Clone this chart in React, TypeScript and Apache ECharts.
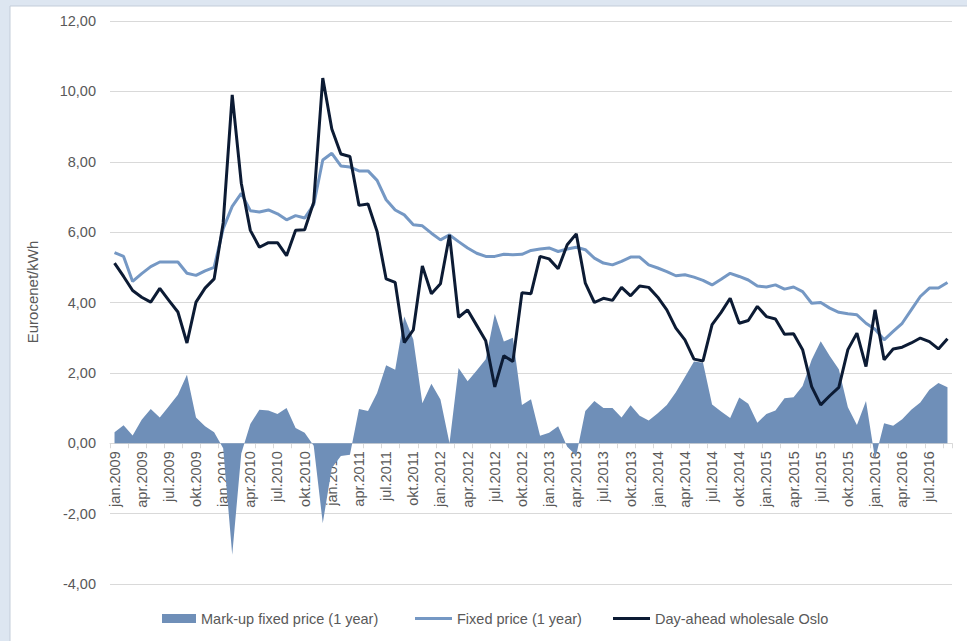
import React, { useEffect, useRef } from "react";
import * as echarts from "echarts";

// Month abbreviations (Norwegian) and the years covered by the series
const monthNames = ["jan", "feb", "mar", "apr", "mai", "jun", "jul", "aug", "sep", "okt", "nov", "des"];
const years = [2009, 2010, 2011, 2012, 2013, 2014, 2015, 2016];
const lastMonthOf2016 = 9; // series ends in September 2016

// Mark-up of the 1-year fixed price over the spot price (eurocent/kWh)
const markUp = [
  0.31, 0.51, 0.22, 0.67, 0.97, 0.73, 1.05, 1.38, 1.95, 0.73, 0.48, 0.31,
  -0.14, -3.17, -0.29, 0.55, 0.95, 0.93, 0.83, 1.0, 0.43, 0.3, -0.07, -2.27,
  -0.7, -0.36, -0.33, 0.97, 0.92, 1.43, 2.22, 2.09, 3.6, 2.95, 1.14, 1.69,
  1.24, 0.0, 2.14, 1.76, 2.07, 2.39, 3.67, 2.89, 3.0, 1.09, 1.25, 0.21,
  0.3, 0.48, -0.1, -0.35, 0.92, 1.2, 1.0, 1.0, 0.73, 1.08, 0.78, 0.65,
  0.85, 1.09, 1.45, 1.88, 2.32, 2.29, 1.1, 0.9, 0.72, 1.3, 1.12, 0.58,
  0.83, 0.93, 1.28, 1.31, 1.63, 2.37, 2.9, 2.48, 2.1, 1.02, 0.52, 1.2,
  -0.45, 0.57, 0.5, 0.68, 0.95, 1.16, 1.52, 1.71, 1.59,
];

// Fixed price contract, 1 year (eurocent/kWh)
const fixedPrice = [
  5.42, 5.31, 4.6, 4.82, 5.02, 5.15, 5.15, 5.15, 4.83, 4.77, 4.9, 5.0,
  6.1, 6.73, 7.1, 6.61, 6.57, 6.63, 6.52, 6.35, 6.47, 6.4, 6.78, 8.05,
  8.24, 7.88, 7.85, 7.74, 7.74, 7.47, 6.92, 6.63, 6.49, 6.21, 6.18, 5.97,
  5.78, 5.92, 5.73, 5.55, 5.4, 5.31, 5.31, 5.37, 5.36, 5.37, 5.48, 5.52,
  5.55, 5.45, 5.52, 5.57, 5.5, 5.26, 5.12, 5.07, 5.17, 5.29, 5.29, 5.07,
  4.98, 4.88, 4.76, 4.79, 4.72, 4.63, 4.5, 4.66, 4.83, 4.74, 4.64, 4.47,
  4.44, 4.5, 4.38, 4.44, 4.31, 3.98, 4.0, 3.84, 3.72, 3.68, 3.65, 3.41,
  3.24, 2.94, 3.18, 3.41, 3.79, 4.17, 4.41, 4.41, 4.57,
];

// Day-ahead wholesale price, Oslo area (eurocent/kWh)
const dayAhead = [
  5.12, 4.74, 4.34, 4.15, 4.01, 4.4, 4.06, 3.73, 2.85, 4.01, 4.41, 4.67,
  6.26, 9.9, 7.39, 6.05, 5.57, 5.7, 5.7, 5.33, 6.05, 6.07, 6.85, 10.38,
  8.93, 8.22, 8.15, 6.76, 6.8, 6.02, 4.67, 4.57, 2.86, 3.22, 5.04, 4.25,
  4.53, 5.92, 3.58, 3.79, 3.35, 2.91, 1.6, 2.49, 2.32, 4.28, 4.25, 5.31,
  5.24, 4.96, 5.64, 5.95, 4.55, 4.0, 4.12, 4.06, 4.43, 4.19, 4.47, 4.43,
  4.15, 3.79, 3.27, 2.94, 2.39, 2.34, 3.37, 3.72, 4.12, 3.41, 3.49, 3.89,
  3.6, 3.53, 3.1, 3.11, 2.66, 1.61, 1.09, 1.35, 1.59, 2.66, 3.13, 2.18,
  3.79, 2.37, 2.68, 2.73, 2.85, 2.99, 2.89, 2.68, 2.97,
];

const seriesNames = ["Mark-up fixed price (1 year)", "Fixed price (1 year)", "Day-ahead wholesale Oslo"];
const yTicks = { min: -4, max: 12, step: 2 };

const categories: string[] = [];
years.forEach((y) => {
  const count = y === 2016 ? lastMonthOf2016 : 12;
  for (let m = 0; m < count; m++) categories.push(`${monthNames[m]}.${y}`);
});

const FONT = "'Liberation Sans', Arial, sans-serif";
const TEXT = "#595959";
const GRID = "#d9d9d9";
const AREA = "#6f8fb8";
const FIXED = "#7598c4";
const SPOT = "#0c1b34";

// Plot area in page pixels
const PLOT = { left: 110, right: 15, top: 21, bottom: 57, height: 641 - 21 - 57 };
// The category axis sits on the zero line: shift it up from the bottom edge
const zeroOffset = (PLOT.height * (0 - yTicks.min)) / (yTicks.max - yTicks.min);

const legendBase = {
  top: 611,
  padding: 0,
  itemGap: 0,
  textStyle: { color: TEXT, fontSize: 14.5, fontFamily: FONT },
};

export default function App() {
  const ref = useRef<HTMLDivElement>(null);

  useEffect(() => {
    if (!ref.current) return;
    const chart = echarts.init(ref.current, null, { renderer: "svg" });
    chart.setOption({
      animation: false,
      backgroundColor: "#dde6f1",
      textStyle: { fontFamily: FONT },
      graphic: [
        {
          type: "rect",
          z: -10,
          silent: true,
          shape: { x: 10, y: 6, width: 960, height: 640 },
          style: { fill: "#ffffff", stroke: "#c3cdd9", lineWidth: 1 },
        },
        {
          type: "text",
          x: 32,
          y: 292,
          rotation: Math.PI / 2,
          silent: true,
          style: {
            text: "Eurocenet/kWh",
            fill: TEXT,
            font: `15px ${FONT}`,
            align: "center",
            verticalAlign: "middle",
          },
        },
      ],
      grid: {
        left: PLOT.left,
        right: PLOT.right,
        top: PLOT.top,
        bottom: PLOT.bottom,
        containLabel: false,
        outerBoundsMode: "none",
      },
      legend: [
        {
          ...legendBase,
          left: 162,
          itemWidth: 34,
          itemHeight: 9,
          data: [{ name: seriesNames[0], icon: "rect" }],
        },
        {
          ...legendBase,
          left: 415,
          itemWidth: 37,
          itemHeight: 3,
          data: [{ name: seriesNames[1], icon: "rect" }],
        },
        {
          ...legendBase,
          left: 613,
          itemWidth: 37,
          itemHeight: 3,
          data: [{ name: seriesNames[2], icon: "rect" }],
        },
      ],
      xAxis: {
        type: "category",
        data: categories,
        boundaryGap: true,
        position: "bottom",
        offset: -zeroOffset,
        axisLine: { onZero: false, lineStyle: { color: GRID, width: 1 } },
        axisTick: { show: true, interval: 1, length: 5, lineStyle: { color: GRID } },
        axisLabel: {
          interval: 2,
          rotate: 90,
          margin: 8,
          color: TEXT,
          fontSize: 14.5,
          fontFamily: FONT,
        },
        splitLine: { show: false },
      },
      yAxis: {
        type: "value",
        min: yTicks.min,
        max: yTicks.max,
        interval: yTicks.step,
        axisLine: { show: false },
        axisTick: { show: false },
        axisLabel: {
          margin: 14,
          color: TEXT,
          fontSize: 14.5,
          fontFamily: FONT,
          formatter: (v: number) => v.toFixed(2).replace(".", ","),
        },
        splitLine: { lineStyle: { color: GRID, width: 1 } },
      },
      series: [
        {
          name: seriesNames[0],
          type: "line",
          data: markUp,
          symbol: "none",
          color: AREA,
          lineStyle: { width: 0, color: AREA },
          areaStyle: { color: AREA, opacity: 1, origin: 0 },
          z: 1,
        },
        {
          name: seriesNames[1],
          type: "line",
          data: fixedPrice,
          symbol: "none",
          color: FIXED,
          lineStyle: { width: 3, color: FIXED },
          z: 2,
        },
        {
          name: seriesNames[2],
          type: "line",
          data: dayAhead,
          symbol: "none",
          color: SPOT,
          lineStyle: { width: 3, color: SPOT },
          z: 3,
        },
      ],
    });
    return () => chart.dispose();
  }, []);

  return (
    <div
      ref={ref}
      style={{ position: "fixed", left: 0, top: 0, width: 967, height: 641 }}
    />
  );
}
